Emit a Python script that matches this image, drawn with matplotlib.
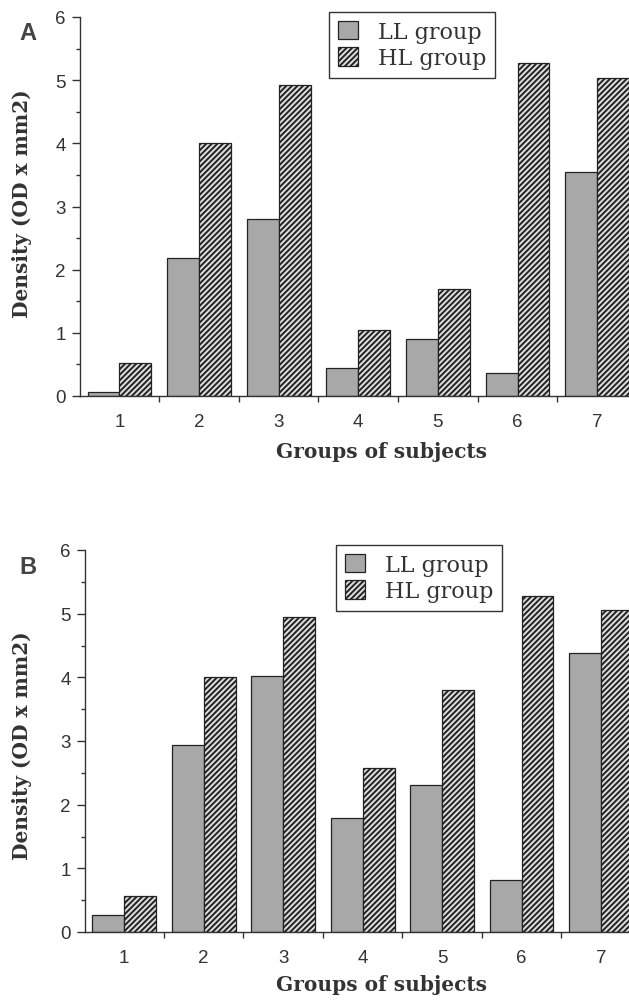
import matplotlib.pyplot as plt
import numpy as np

plt.rcParams['hatch.linewidth'] = 1.4

groups = [1, 2, 3, 4, 5, 6, 7]
group_labels = ['1', '2', '3', '4', '5', '6', '7']

# panel A
ll_a = [0.06, 2.19, 2.81, 0.45, 0.90, 0.36, 3.54]
hl_a = [0.53, 4.00, 4.93, 1.05, 1.70, 5.27, 5.03]
# panel B
ll_b = [0.27, 2.93, 4.02, 1.79, 2.31, 0.81, 4.38]
hl_b = [0.56, 4.00, 4.94, 2.57, 3.80, 5.28, 5.05]

W, H = 629, 1004
fig = plt.figure(figsize=(W / 100, H / 100), dpi=100)

tick_font = dict(family='Liberation Sans', size=13.5, color='#333333')
serif_bold = dict(family='DejaVu Serif', weight='bold', size=14.5, color='#333333')


def panel(left, top, bottom, xmax, ll, hl, letter, leg_x, leg_y, label_top, ylab_y):
    ax = fig.add_axes([left / W, 1 - bottom / H, 1 - left / W, (bottom - top) / H])
    x = np.array(groups)
    bw = 0.40
    ax.bar(x - bw / 2, ll, bw, color='#a8a8a8', edgecolor='#222222', linewidth=0.9,
           label='LL group')
    ax.bar(x + bw / 2, hl, bw, color='#dedede', edgecolor='#222222', linewidth=0.9,
           hatch='//////', label='HL group')
    ax.set_xlim(0.5, xmax)
    ax.set_ylim(0, 6)
    for s in ['top', 'right']:
        ax.spines[s].set_visible(False)
    for s in ['left', 'bottom']:
        ax.spines[s].set_color('#333333')
        ax.spines[s].set_linewidth(1.0)

    ax.set_yticks(range(7))
    ax.set_yticks(np.arange(0.5, 6, 1), minor=True)
    ax.set_xticks(groups)
    ax.set_xticklabels(group_labels)
    ax.set_xticks(np.arange(1.5, 7, 1), minor=True)
    ax.tick_params(axis='y', which='major', length=6, width=1, color='#333333', pad=4)
    ax.tick_params(axis='y', which='minor', length=3, width=1, color='#333333')
    ax.tick_params(axis='x', which='major', length=0, pad=12)
    ax.tick_params(axis='x', which='minor', length=4, width=1, color='#333333')
    for t in ax.get_xticklabels() + ax.get_yticklabels():
        t.set_fontfamily(tick_font['family'])
        t.set_fontsize(tick_font['size'])
        t.set_color(tick_font['color'])

    ax.set_ylabel('Density (OD x mm2)', **serif_bold)
    ax.yaxis.set_label_coords((22 - left) / (W - left), ylab_y)
    ax.yaxis.label.set_va('center')
    ax.set_xlabel('Groups of subjects', **serif_bold)
    ax.xaxis.set_label_coords((381 - left) / (W - left), -(label_top - bottom) / (bottom - top))
    ax.xaxis.label.set_va('top')

    fig.text(28 / W, 1 - (top + 16) / H, letter, family='Liberation Sans', weight='bold',
             size=17, color='#444444', ha='center', va='center')

    leg = ax.legend(loc='upper left', bbox_to_anchor=(leg_x / W, 1 - leg_y / H),
                    bbox_transform=fig.transFigure, borderaxespad=0, fancybox=False,
                    framealpha=1, edgecolor='#333333', prop=dict(family='DejaVu Serif', size=16),
                    handlelength=0.9, handleheight=0.9, handletextpad=0.9,
                    labelspacing=0.2, borderpad=0.4)
    leg.get_frame().set_linewidth(1.0)
    for t in leg.get_texts():
        t.set_color('#333333')
    return ax


panel(79.6, 18, 397, 7.40, ll_a, hl_a, 'A', 329, 13, 442, 0.51)
panel(84.5, 551, 933, 7.35, ll_b, hl_b, 'B', 336, 546, 975, 0.49)

fig.savefig('out.png', dpi=100)
